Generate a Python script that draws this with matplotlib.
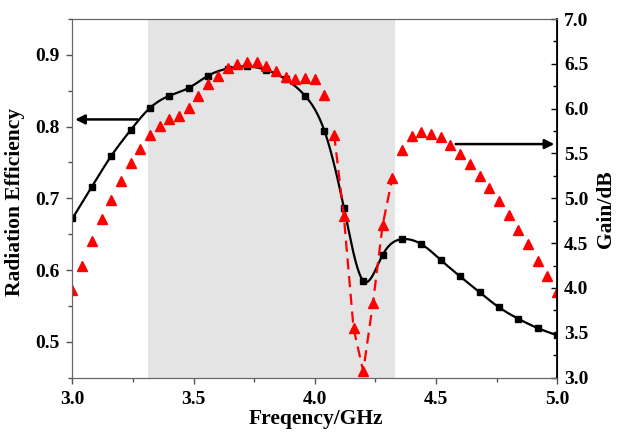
import numpy as np
import matplotlib.pyplot as plt
from matplotlib.ticker import MultipleLocator

# Radiation efficiency (black squares, left axis)
freq_eff = [3.00, 3.08, 3.16, 3.24, 3.32, 3.40, 3.48, 3.56, 3.64, 3.72, 3.80, 3.88, 3.96,
            4.04, 4.12, 4.20, 4.28, 4.36, 4.44, 4.52, 4.60, 4.68, 4.76, 4.84, 4.92, 5.00]
efficiency = [0.672, 0.716, 0.759, 0.795, 0.826, 0.843, 0.854, 0.871, 0.881, 0.884, 0.879, 0.866, 0.843,
              0.794, 0.687, 0.585, 0.621, 0.643, 0.636, 0.614, 0.591, 0.569, 0.548, 0.532, 0.519, 0.509]

# Gain (red triangles, right axis)
freq_gain = [3.00, 3.04, 3.08, 3.12, 3.16, 3.20, 3.24, 3.28, 3.32, 3.36, 3.40, 3.44, 3.48, 3.52,
             3.56, 3.60, 3.64, 3.68, 3.72, 3.76, 3.80, 3.84, 3.88, 3.92, 3.96, 4.00, 4.04, 4.08,
             4.12, 4.16, 4.20, 4.24, 4.28, 4.32, 4.36, 4.40, 4.44, 4.48, 4.52, 4.56, 4.60, 4.64,
             4.68, 4.72, 4.76, 4.80, 4.84, 4.88, 4.92, 4.96, 5.00]
gain = [3.98, 4.25, 4.52, 4.77, 4.98, 5.19, 5.39, 5.55, 5.71, 5.81, 5.88, 5.92, 6.01, 6.14,
        6.27, 6.37, 6.45, 6.50, 6.52, 6.52, 6.48, 6.42, 6.35, 6.33, 6.34, 6.33, 6.15, 5.71,
        4.80, 3.55, 3.07, 3.83, 4.70, 5.23, 5.54, 5.69, 5.74, 5.72, 5.68, 5.59, 5.49, 5.38,
        5.25, 5.11, 4.97, 4.81, 4.65, 4.49, 4.30, 4.13, 3.95]

band = (3.31, 4.33)          # shaded band
dash_span = (4.08, 4.32)     # part of gain curve drawn with dashed line


def natural_spline(x, y, n=600):
    # natural cubic spline for a smooth connecting line (like Origin's spline)
    x = np.asarray(x, float)
    y = np.asarray(y, float)
    m = len(x)
    h = np.diff(x)
    A = np.zeros((m, m))
    b = np.zeros(m)
    A[0, 0] = A[-1, -1] = 1
    for i in range(1, m - 1):
        A[i, i - 1] = h[i - 1]
        A[i, i] = 2 * (h[i - 1] + h[i])
        A[i, i + 1] = h[i]
        b[i] = 6 * ((y[i + 1] - y[i]) / h[i] - (y[i] - y[i - 1]) / h[i - 1])
    M = np.linalg.solve(A, b)
    xs = np.linspace(x[0], x[-1], n)
    k = np.clip(np.searchsorted(x, xs) - 1, 0, m - 2)
    t0 = x[k + 1] - xs
    t1 = xs - x[k]
    hk = h[k]
    ys = (M[k] * t0 ** 3 + M[k + 1] * t1 ** 3) / (6 * hk) \
        + (y[k] / hk - M[k] * hk / 6) * t0 + (y[k + 1] / hk - M[k + 1] * hk / 6) * t1
    return xs, ys


plt.rcParams['font.family'] = 'Liberation Serif'
plt.rcParams['font.weight'] = 'bold'

fig = plt.figure(figsize=(6.19, 4.33), dpi=100)
ax = fig.add_axes([0.117, 0.128, 0.783, 0.828])
ax2 = ax.twinx()

ax.axvspan(band[0], band[1], color='#e4e4e4', lw=0, zorder=0)

xs, ys = natural_spline(freq_eff, efficiency)
ax.plot(xs, ys, color='black', lw=1.6, zorder=2)
ax.plot(freq_eff, efficiency, 's', color='black', ms=5, zorder=3)

fg = np.array(freq_gain)
g = np.array(gain)
sel = (fg >= dash_span[0] - 1e-9) & (fg <= dash_span[1] + 1e-9)
ax2.plot(fg[sel], g[sel], '--', color='red', lw=1.6, dashes=(5, 3))
ax2.plot(fg, g, '^', color='red', ms=7, mec='red')

ax.set_xlim(3.0, 5.0)
ax.set_ylim(0.45, 0.95)
ax2.set_ylim(3.0, 7.0)

ax.xaxis.set_major_locator(MultipleLocator(0.5))
ax.xaxis.set_minor_locator(MultipleLocator(0.25))
ax.yaxis.set_major_locator(MultipleLocator(0.1))
ax.yaxis.set_minor_locator(MultipleLocator(0.05))
ax2.yaxis.set_major_locator(MultipleLocator(0.5))
ax2.yaxis.set_minor_locator(MultipleLocator(0.25))
ax.xaxis.set_major_formatter(plt.FormatStrFormatter('%.1f'))
ax.yaxis.set_major_formatter(plt.FormatStrFormatter('%.1f'))
ax2.yaxis.set_major_formatter(plt.FormatStrFormatter('%.1f'))

ax.tick_params(axis='both', which='major', direction='out', length=4.5, width=1,
               labelsize=14, color='#555555')
ax.tick_params(axis='x', which='major', pad=5)
ax.tick_params(axis='y', which='major', pad=5)
ax.tick_params(axis='both', which='minor', direction='out', length=3, width=1, color='#555555')
ax.tick_params(axis='y', right=False)
ax2.tick_params(axis='y', which='major', direction='in', length=4.5, width=1,
                labelsize=14, pad=5)
ax2.tick_params(axis='y', which='minor', direction='in', length=3, width=1)

for sp in ['left', 'bottom', 'top']:
    ax.spines[sp].set_color('#666666')
    ax2.spines[sp].set_color('#666666')
ax2.spines['right'].set_color('black')
ax2.spines['right'].set_linewidth(1.3)

ax.set_xlabel('Freqency/GHz', fontsize=15.5, fontweight='bold')
ax.set_ylabel('Radiation Efficiency', fontsize=15.5, fontweight='bold')
ax2.set_ylabel('Gain/dB', fontsize=15.5, fontweight='bold')
ax.xaxis.set_label_coords(0.503, -0.088)
ax.yaxis.set_label_coords(-0.097, 0.49)
ax2.yaxis.set_label_coords(1.08, 0.47)

# arrows pointing to each curve's axis
ax.annotate('', xy=(3.0, 0.81), xytext=(3.28, 0.81),
            arrowprops=dict(arrowstyle='-|>', color='black', lw=1.8, mutation_scale=14))
ax2.annotate('', xy=(5.0, 5.605), xytext=(4.57, 5.605),
             arrowprops=dict(arrowstyle='-|>', color='black', lw=1.8, mutation_scale=14))

fig.savefig('out.png', dpi=100)
